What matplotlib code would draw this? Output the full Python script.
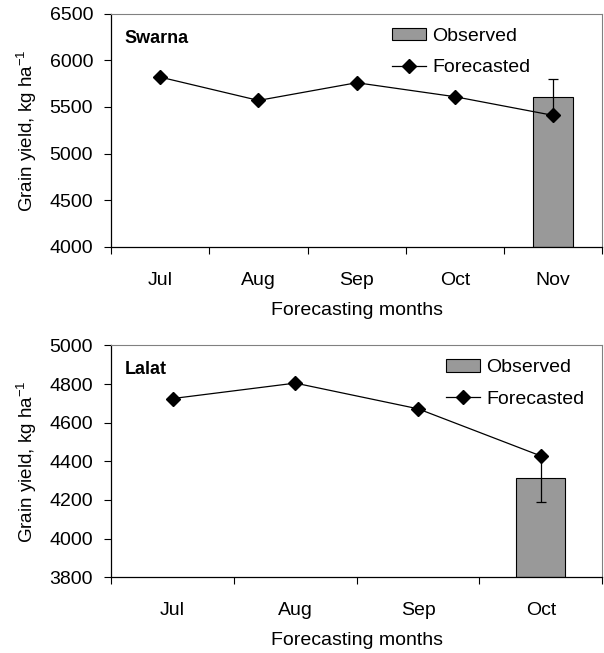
import numpy as np
import matplotlib
matplotlib.use('Agg')
import matplotlib.pyplot as plt
from matplotlib.lines import Line2D
from matplotlib.patches import Patch

plt.rcParams['font.family'] = ['Liberation Sans', 'DejaVu Sans']

# Swarna
months_sw = ['Jul', 'Aug', 'Sep', 'Oct', 'Nov']
forecast_sw = [5820, 5570, 5760, 5610, 5410]
observed_sw = 5610
err_sw = 190

# Lalat
months_la = ['Jul', 'Aug', 'Sep', 'Oct']
forecast_la = [4725, 4805, 4672, 4428]
observed_la = 4312
err_la = 125

fig = plt.figure(figsize=(6.04, 6.53), dpi=100)
ax1 = fig.add_axes([0.184, 0.622, 0.813, 0.357])
ax2 = fig.add_axes([0.184, 0.116, 0.813, 0.355])


def panel(ax, months, forecast, observed, err, ylim, yticks, name, leg_x):
    n = len(months)
    x = np.arange(n)
    ax.bar(x[-1], observed - ylim[0], bottom=ylim[0], width=0.4, color='#999999',
           edgecolor='black', linewidth=0.8, zorder=2)
    ax.errorbar(x[-1], observed, yerr=err, fmt='none', ecolor='black',
                elinewidth=0.9, capsize=3.5, capthick=0.9, zorder=3)
    ax.plot(x, forecast, color='black', linewidth=0.9, marker='D',
            markersize=7, zorder=4)
    ax.set_xlim(-0.5, n - 0.5)
    ax.set_ylim(*ylim)
    ax.set_yticks(yticks)
    ax.set_xticks(np.arange(n + 1) - 0.5)
    ax.set_xticklabels([])
    ax.set_xticks(x, minor=True)
    ax.set_xticklabels(months, minor=True)
    ax.tick_params(axis='x', which='minor', length=0, pad=18, labelsize=14)
    ax.tick_params(axis='x', which='major', direction='out', length=5, width=0.8)
    ax.tick_params(axis='y', direction='out', length=5, width=0.8, labelsize=14, pad=8)
    for s in ['top', 'right']:
        ax.spines[s].set_color('#808080')
        ax.spines[s].set_linewidth(0.8)
    for s in ['left', 'bottom']:
        ax.spines[s].set_linewidth(0.9)
    ax.set_xlabel('Forecasting months', fontsize=14)
    ax.xaxis.set_label_coords(0.5, -0.235)
    ax.set_ylabel('Grain yield, kg ha$^{\\mathregular{-1}}$', fontsize=13.5)
    ax.yaxis.set_label_coords(-0.146, 0.5)
    ax.text(0.028, 0.895, name, transform=ax.transAxes, fontsize=13,
            fontweight='bold', va='center')
    handles = [Patch(facecolor='#999999', edgecolor='black', linewidth=0.8),
               Line2D([], [], color='black', linewidth=0.9, marker='D', markersize=7)]
    ax.legend(handles, ['Observed', 'Forecasted'], loc='upper left',
              bbox_to_anchor=(leg_x, 0.94), frameon=False, fontsize=14,
              borderpad=0, borderaxespad=0, handlelength=1.75,
              handleheight=0.6, handletextpad=0.3, labelspacing=0.75)


panel(ax1, months_sw, forecast_sw, observed_sw, err_sw, (4000, 6500),
      np.arange(4000, 6501, 500), 'Swarna', 0.572)
panel(ax2, months_la, forecast_la, observed_la, err_la, (3800, 5000),
      np.arange(3800, 5001, 200), 'Lalat', 0.682)

fig.savefig('out.png', dpi=100)
